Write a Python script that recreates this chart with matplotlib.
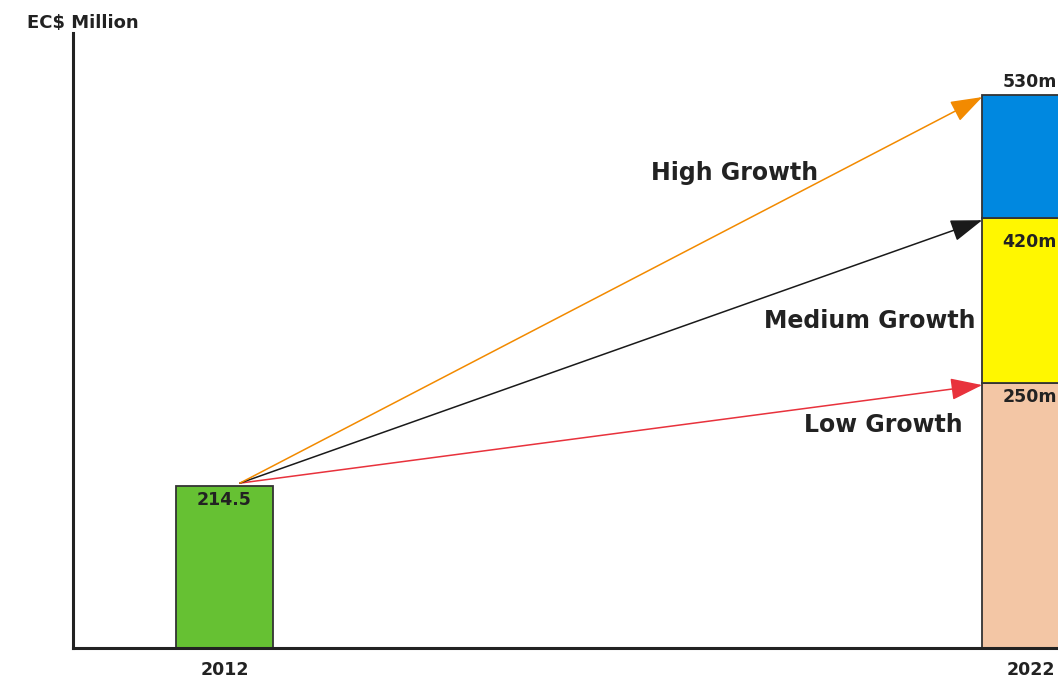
import matplotlib.pyplot as plt

# Values printed on the chart
years = ['2012', '2022']
base_value = '214.5'
scenario_names = ['Low Growth', 'Medium Growth', 'High Growth']
scenario_labels = ['250m', '420m', '530m']

# Bar heights as drawn in the picture (not to scale with the labels)
base_height = 155
scenario_tops = [254, 412, 530]

seg_colors = ['#f3c6a5', '#fff700', '#0088e0']
arrow_colors = ['#e8323c', '#1a1a1a', '#f28a00']
text_color = '#222222'

fig = plt.figure(figsize=(10.58, 6.79), dpi=100)
ax = fig.add_axes([73 / 1058, 31 / 679, 1 - 73 / 1058, 615 / 679])

w = 0.12
ax.bar(0, base_height, width=w, color='#66c133', edgecolor='#333333', lw=1.3, zorder=2)

bottoms = [0] + scenario_tops[:-1]
for top, bot, c in zip(scenario_tops, bottoms, seg_colors):
    ax.bar(1, top - bot, bottom=bot, width=w, color=c, edgecolor='#333333', lw=1.3, zorder=2)

# Growth arrows from the 2012 bar to each scenario
start = (0.019, base_height + 3)
for top, c in zip(scenario_tops, arrow_colors):
    ax.annotate('', xy=(1 - w / 2, top - 2), xytext=start,
                arrowprops=dict(arrowstyle='-|>,head_length=1.1,head_width=0.38',
                                mutation_scale=18, color=c, lw=1.1,
                                shrinkA=0, shrinkB=0), zorder=3)

font = dict(family='DejaVu Sans', fontweight='bold', color=text_color)

ax.annotate(base_value, xy=(0, base_height), xytext=(0, -10), textcoords='offset points',
            ha='center', va='center', fontsize=12.5, **font)
offsets = [-10, -17, 9]
for top, lab, dy in zip(scenario_tops, scenario_labels, offsets):
    ax.annotate(lab, xy=(1, top), xytext=(-0.5, dy), textcoords='offset points',
                ha='center', va='center', fontsize=12.5, annotation_clip=False, **font)

name_pos = [(0.817, 214), (0.8, 313), (0.633, 455)]
for name, (x, y) in zip(scenario_names, name_pos):
    ax.text(x, y, name, ha='center', va='center', fontsize=17, **font)

for i, yr in enumerate(years):
    ax.annotate(yr, xy=(i, 0), xytext=(0, -16), textcoords='offset points',
                ha='center', va='center', fontsize=12.5, annotation_clip=False, **font)

fig.text(27 / 1058, 1 - 23 / 679, 'EC$ Million', ha='left', va='center', fontsize=13, **font)

ax.set_xlim(-0.188, 1.034)
ax.set_ylim(0, 589.4)
for s in ['top', 'right']:
    ax.spines[s].set_visible(False)
for s in ['left', 'bottom']:
    ax.spines[s].set_linewidth(2.2)
    ax.spines[s].set_color('#222222')
ax.set_xticks([])
ax.set_yticks([])

fig.savefig('out.png', dpi=100)
